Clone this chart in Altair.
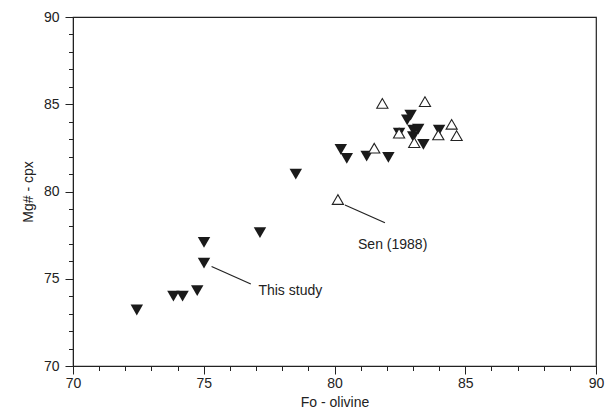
import altair as alt
import pandas as pd

# This study (filled inverted triangles)
study_fo = [72.44, 73.84, 74.19, 74.75, 75.01, 75.01, 77.15, 78.52,
            80.24, 80.47, 81.23, 82.06, 82.47, 82.78, 82.91, 83.02,
            83.20, 83.01, 83.40, 84.00]
study_mg = [73.21, 74.01, 74.01, 74.32, 75.89, 77.09, 77.64, 81.00,
            82.42, 81.90, 82.03, 81.96, 83.34, 84.10, 84.38, 83.52,
            83.58, 83.14, 82.70, 83.52]

# Sen (1988) (open triangles)
sen_fo = [80.13, 81.52, 81.83, 82.47, 83.05, 83.46, 83.97, 84.48, 84.67]
sen_mg = [79.54, 82.48, 85.05, 83.34, 82.80, 85.15, 83.24, 83.85, 83.20]

# annotations (data space)
label_text = ["This study", "Sen (1988)"]
label_x = [77.09, 80.90]
label_y = [74.27, 76.95]
leader_x = [75.30, 80.40]
leader_y = [75.70, 79.23]
leader_x2 = [76.80, 81.93]
leader_y2 = [74.70, 78.21]

ticks = list(range(70, 91))

study = pd.DataFrame({"fo": study_fo, "mg": study_mg})
sen = pd.DataFrame({"fo": sen_fo, "mg": sen_mg})
labels = pd.DataFrame({"t": label_text, "x": label_x, "y": label_y})
leaders = pd.DataFrame({"x": leader_x, "y": leader_y, "x2": leader_x2, "y2": leader_y2})

FONT = "Liberation Sans"
lab_expr = "datum.value % 5 == 0 ? format(datum.value, 'd') : ''"
tick_cond = {"condition": {"test": "datum.value % 5 == 0", "value": 8}, "value": 4.5}

xs = alt.Scale(domain=[70, 90], nice=False, zero=False)
ys = alt.Scale(domain=[70, 90], nice=False, zero=False)

common = dict(values=ticks, tickCount=30, labelExpr=lab_expr, grid=False,
              tickSize=tick_cond, tickColor="#222", domainColor="#222", labelColor="#222",
              labelFontSize=14, titleFontSize=14, labelFont=FONT, titleFont=FONT,
              titleFontWeight="normal",
              labelFlush=False, labelOverlap=False, titleColor="#222")
xax = alt.Axis(title="Fo - olivine", titlePadding=5, labelPadding=2, **common)
yax = alt.Axis(title="Mg# - cpx", titlePadding=8, labelPadding=6, **common)

pts_study = alt.Chart(study).mark_point(
    shape="triangle-down", filled=True, color="#1a1a1a", size=155, opacity=1
).encode(x=alt.X("fo:Q", scale=xs, axis=xax), y=alt.Y("mg:Q", scale=ys, axis=yax))

pts_sen = alt.Chart(sen).mark_point(
    shape="triangle-up", filled=False, fill="white", fillOpacity=1, stroke="#222",
    strokeWidth=1.1, size=125, opacity=1
).encode(x=alt.X("fo:Q", scale=xs), y=alt.Y("mg:Q", scale=ys))

lines = alt.Chart(leaders).mark_rule(color="#222", strokeWidth=1.2).encode(
    x="x:Q", y="y:Q", x2="x2:Q", y2="y2:Q")

texts = alt.Chart(labels).mark_text(
    align="left", baseline="middle", font=FONT, fontSize=14, color="#222"
).encode(x="x:Q", y="y:Q", text="t:N")

chart = alt.layer(pts_study, pts_sen, lines, texts).properties(
    width=523, height=349,
    autosize=alt.AutoSizeParams(type="none"),
    padding={"left": 73, "top": 17, "right": 11, "bottom": 49},
    background="white",
).configure_view(stroke="#222", strokeWidth=1.2)

chart.save("out.html", embed_options={"renderer": "svg", "actions": False})
